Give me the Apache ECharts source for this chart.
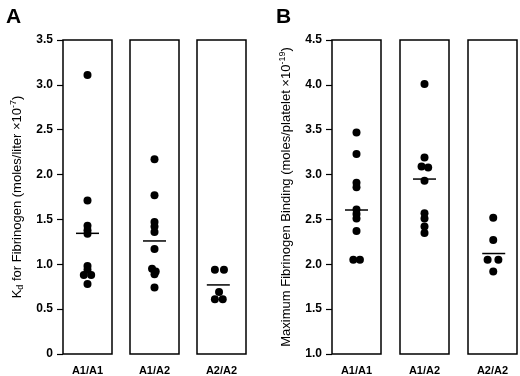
<!DOCTYPE html>
<html>
<head>
<meta charset="utf-8">
<script src="https://cdn.jsdelivr.net/npm/echarts@6/dist/echarts.min.js"></script>
<style>
html,body{margin:0;padding:0;background:#fff}
#chart{width:520px;height:376px}
</style>
</head>
<body>
<div id="chart"></div>
<script>
/*
* 数据
*/
var genotypes = ['A1/A1', 'A1/A2', 'A2/A2'];

// A: Kd for Fibrinogen (moles/liter x10^-7)
var kdA1A1 = [3.11, 1.71, 1.43, 1.38, 1.34, 0.98, 0.94, 0.88, 0.88, 0.78];
var kdA1A1Off = [0, 0, 0, 0, 0, 0, 0, -0.15, 0.15, 0];
var kdA1A2 = [2.17, 1.77, 1.47, 1.42, 1.36, 1.17, 0.95, 0.92, 0.89, 0.74];
var kdA1A2Off = [0, 0, 0, 0, 0, 0, -0.1, 0.05, 0, 0];
var kdA2A2 = [0.94, 0.94, 0.69, 0.61, 0.61];
var kdA2A2Off = [-0.27, 0.1, -0.1, -0.27, 0.05];
var kdMeans = [1.345, 1.26, 0.77];
var kdMeanOff = [0, 0, -0.13];
var kdAxis = [0, 3.5, 0.5];   // min, max, interval

// B: Maximum Fibrinogen Binding (moles/platelet x10^-19)
var bmA1A1 = [3.47, 3.23, 2.91, 2.86, 2.61, 2.56, 2.51, 2.37, 2.05, 2.05];
var bmA1A1Off = [0, 0, 0, 0, 0, 0, 0, 0, -0.13, 0.14];
var bmA1A2 = [4.01, 3.19, 3.09, 3.08, 2.93, 2.57, 2.51, 2.42, 2.35];
var bmA1A2Off = [0, 0, -0.12, 0.15, 0, 0, 0, 0, 0];
var bmA2A2 = [2.52, 2.27, 2.05, 2.05, 1.92];
var bmA2A2Off = [0.03, 0.03, -0.2, 0.24, 0.03];
var bmMeans = [2.605, 2.95, 2.12];
var bmMeanOff = [0, 0, 0.05];
var bmAxis = [1.0, 4.5, 0.5];

var panels = [
  {
    vals: [kdA1A1, kdA1A2, kdA2A2],
    offs: [kdA1A1Off, kdA1A2Off, kdA2A2Off],
    means: kdMeans, meanOff: kdMeanOff, axis: kdAxis,
    lefts: [63, 130, 197],
    name: 'K{sub|d} for Fibrinogen (moles/liter \u00d710{sup|-7})'
  },
  {
    vals: [bmA1A1, bmA1A2, bmA2A2],
    offs: [bmA1A1Off, bmA1A2Off, bmA2A2Off],
    means: bmMeans, meanOff: bmMeanOff, axis: bmAxis,
    lefts: [332, 400, 468],
    name: 'Maximum Fibrinogen Binding (moles/platelet \u00d710{sup|-19})'
  }
];

var font = 'Liberation Sans, Arial, sans-serif';
var grids = [], xAxes = [], yAxes = [], series = [];

panels.forEach(function(p, pi){
  for (var c = 0; c < 3; c++) {
    var g = pi * 3 + c;
    grids.push({
      left: p.lefts[c], width: 49, top: 40, bottom: 22,
      show: true, borderColor: '#000', borderWidth: 1.5, backgroundColor: 'transparent'
    });
    xAxes.push({
      type: 'value', gridIndex: g, min: -1, max: 1, interval: 1,
      axisLine: {show: false, onZero: false}, axisTick: {show: false}, splitLine: {show: false},
      axisLabel: {
        margin: 11, color: '#000', fontSize: 11, fontWeight: 'bold', fontFamily: font,
        formatter: (function(cat){ return function(v){ return v === 0 ? cat : ''; }; })(genotypes[c])
      }
    });
    var y = {
      type: 'value', gridIndex: g, min: p.axis[0], max: p.axis[1], interval: p.axis[2],
      splitLine: {show: false}, axisLine: {show: false, onZero: false}
    };
    if (c === 0) {
      y.axisTick = {show: true, length: 6, lineStyle: {color: '#000', width: 1.2}};
      y.axisLabel = {
        margin: 10, color: '#000', fontSize: 12, fontWeight: 'bold', fontFamily: font,
        formatter: function(v){ return v === 0 ? '0' : v.toFixed(1); }
      };
      y.name = p.name;
      y.nameLocation = 'middle';
      y.nameGap = 38;
      y.nameTextStyle = {
        color: '#000', fontSize: 13, fontFamily: font, lineHeight: 16,
        rich: {
          sub: {fontSize: 9, lineHeight: 10, verticalAlign: 'bottom', color: '#000', fontFamily: font},
          sup: {fontSize: 9, lineHeight: 10, verticalAlign: 'top', color: '#000', fontFamily: font}
        }
      };
    } else {
      y.axisTick = {show: false};
      y.axisLabel = {show: false};
    }
    yAxes.push(y);

    series.push({
      type: 'scatter', xAxisIndex: g, yAxisIndex: g, symbolSize: 8,
      itemStyle: {color: '#000', opacity: 1},
      data: p.vals[c].map(function(v, i){ return [p.offs[c][i], v]; })
    });
    // 均值线
    series.push({
      type: 'scatter', xAxisIndex: g, yAxisIndex: g, symbol: 'rect', symbolSize: [23, 1.5],
      itemStyle: {color: '#000', opacity: 1},
      data: [[p.meanOff[c], p.means[c]]]
    });
  }
});

var myChart = echarts.init(document.getElementById('chart'));
myChart.setOption({
  animation: false,
  title: [
    {text: 'A', left: 1, top: 2, textStyle: {fontSize: 21, fontWeight: 'bold', color: '#000', fontFamily: font}},
    {text: 'B', left: 271, top: 2, textStyle: {fontSize: 21, fontWeight: 'bold', color: '#000', fontFamily: font}}
  ],
  grid: grids,
  xAxis: xAxes,
  yAxis: yAxes,
  series: series
});
</script>
</body>
</html>
